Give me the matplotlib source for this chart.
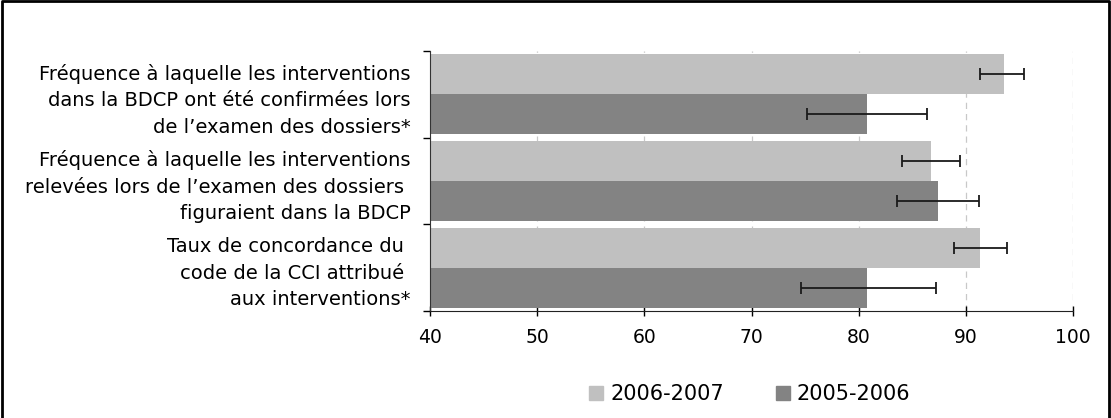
import numpy as np
import matplotlib
matplotlib.use('Agg')
import matplotlib.pyplot as plt
from matplotlib.lines import Line2D

plt.rcParams['font.family'] = ['DejaVu Sans']

# Data
categories = ['Fréquence à laquelle les interventions\ndans la BDCP ont été confirmées lors\nde l\u2019examen des dossiers*',
              'Fréquence à laquelle les interventions\nrelevées lors de l\u2019examen des dossiers \nfiguraient dans la BDCP',
              'Taux de concordance du \ncode de la CCI attribué \naux interventions*']
series_names = ['2006-2007', '2005-2006']
vals_0607 = [93.5, 86.7, 91.3]
lo_0607 = [91.3, 84.0, 88.9]
hi_0607 = [95.4, 89.4, 93.8]
vals_0506 = [80.8, 87.4, 80.8]
lo_0506 = [75.2, 83.6, 74.6]
hi_0506 = [86.4, 91.2, 87.2]
xticks = [40, 50, 60, 70, 80, 90, 100]

light = '#C0C0C0'
dark = '#838383'

fig = plt.figure(figsize=(11.11, 4.18), dpi=100)
ax = fig.add_axes([0.387, 0.256, 0.579, 0.622])

n = len(categories)
centers = np.arange(n)  # 0 at top after inversion
bh = 0.46

v1 = np.array(vals_0607); v2 = np.array(vals_0506)
err1 = [v1 - np.array(lo_0607), np.array(hi_0607) - v1]
err2 = [v2 - np.array(lo_0506), np.array(hi_0506) - v2]

ax.barh(centers - bh/2, v1 - 40, left=40, height=bh, color=light, label=series_names[0], zorder=2)
ax.barh(centers + bh/2, v2 - 40, left=40, height=bh, color=dark, label=series_names[1], zorder=2)
ax.errorbar(v1, centers - bh/2, xerr=err1, fmt='none', ecolor='#1a1a1a', elinewidth=1.3, capsize=4.5, capthick=1.3, zorder=3)
ax.errorbar(v2, centers + bh/2, xerr=err2, fmt='none', ecolor='#1a1a1a', elinewidth=1.3, capsize=4.5, capthick=1.3, zorder=3)

ax.set_xlim(40, 100)
ax.set_ylim(n - 0.5, -0.5)
ax.set_xticks(xticks)
ax.tick_params(axis='x', direction='inout', length=7, width=1, labelsize=13.5, pad=9)

ax.set_yticks(centers)
ax.set_yticklabels(categories, fontsize=14, linespacing=1.5, ha='right', multialignment='right')
ax.tick_params(axis='y', which='major', length=0, pad=14)
ax.set_yticks(np.arange(n + 1) - 0.5, minor=True)
ax.tick_params(axis='y', which='minor', length=5, width=1)

ax.grid(axis='x', color='#C8C8C8', linestyle=(0, (5, 4)), linewidth=0.9, zorder=0)
ax.set_axisbelow(True)
for s in ['top', 'right']:
    ax.spines[s].set_visible(False)
ax.spines['left'].set_color('#333333')
ax.spines['bottom'].set_color('#222222')

handles = [plt.Rectangle((0, 0), 1, 1, color=light), plt.Rectangle((0, 0), 1, 1, color=dark)]
fig.legend(handles, series_names, loc='center', bbox_to_anchor=(0.675, 0.057), ncol=2,
           frameon=False, fontsize=15, handlelength=0.65, handleheight=0.65, columnspacing=2.5, handletextpad=0.35)

# border around figure (left, top, right)
fig.add_artist(Line2D([0.0015, 0.0015, 0.9985, 0.9985], [0, 0.997, 0.997, 0], transform=fig.transFigure,
                      color='black', linewidth=2))

fig.savefig('out.png', dpi=100)
